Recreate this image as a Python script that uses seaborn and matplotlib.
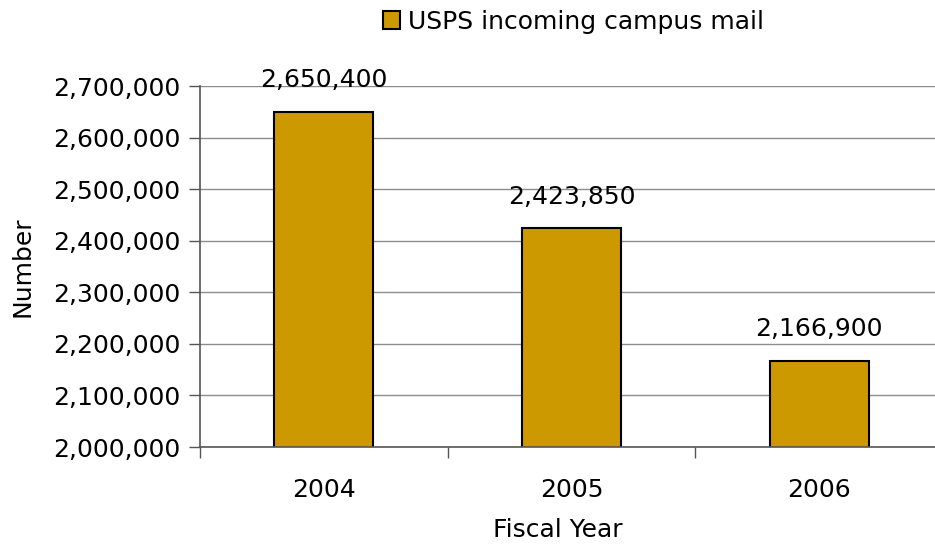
import pandas as pd
import seaborn as sns
import matplotlib.pyplot as plt
from matplotlib.ticker import FuncFormatter, FixedLocator

years = ["2004", "2005", "2006"]
mail = [2650400, 2423850, 2166900]
series_name = "USPS incoming campus mail"
yticks = [2000000, 2100000, 2200000, 2300000, 2400000, 2500000, 2600000, 2700000]

df = pd.DataFrame({"year": years, "mail": mail})

sns.set_style("white")
plt.rcParams["font.family"] = ["DejaVu Sans"]
plt.rcParams["font.size"] = 18
plt.rcParams["text.color"] = "black"
plt.rcParams["axes.labelcolor"] = "black"
plt.rcParams["xtick.color"] = "black"
plt.rcParams["ytick.color"] = "black"

fig = plt.figure(figsize=(9.35, 5.45), dpi=100)
ax = fig.add_axes([0.2139, 0.1798, 0.7947, 0.6624])

b = sns.barplot(data=df, x="year", y="mail", color="#CC9900", saturation=1,
                width=0.4, edgecolor="black", linewidth=1.5, label=series_name, ax=ax)

ax.set_ylim(2000000, 2700000)
ax.set_xlim(-0.5, 2.5)
ax.set_yticks(yticks)
ax.yaxis.set_major_formatter(FuncFormatter(lambda v, p: f"{int(v):,}"))
ax.yaxis.grid(True, color="#8c8c8c", linewidth=1)
ax.set_axisbelow(True)

# tick marks sit between the categories, like the original
ax.xaxis.set_minor_locator(FixedLocator([-0.5, 0.5, 1.5, 2.5]))
ax.tick_params(axis="x", which="major", length=0, pad=22, labelsize=18, labelcolor="black")
ax.tick_params(axis="x", which="minor", length=8, width=1, color="#555555", direction="out")
ax.tick_params(axis="y", length=8, width=1, color="#555555", direction="out",
               labelsize=18, pad=6, labelcolor="black")
ax.tick_params(left=True, bottom=True, which="both")

for s in ["top", "right"]:
    ax.spines[s].set_visible(False)
for s in ["left", "bottom"]:
    ax.spines[s].set_color("#555555")
    ax.spines[s].set_linewidth(1.2)

ax.bar_label(ax.containers[0], labels=[f"{v:,}" for v in mail], padding=14,
             fontsize=18, color="black")

ax.set_xlabel("Fiscal Year", fontsize=18, color="black")
ax.set_ylabel("Number", fontsize=18, color="black")
ax.xaxis.set_label_coords(0.482, -0.197)
ax.yaxis.set_label_coords(-0.2234, 0.5)

if ax.legend_:
    ax.legend_.remove()
fig.legend(handles=[b.containers[0].patches[0]], labels=[series_name],
           loc="center", bbox_to_anchor=(573 / 935, 0.96), frameon=False,
           fontsize=18, handlelength=0.7, handleheight=0.7, handletextpad=0.3)

fig.savefig("out.png", dpi=100)
